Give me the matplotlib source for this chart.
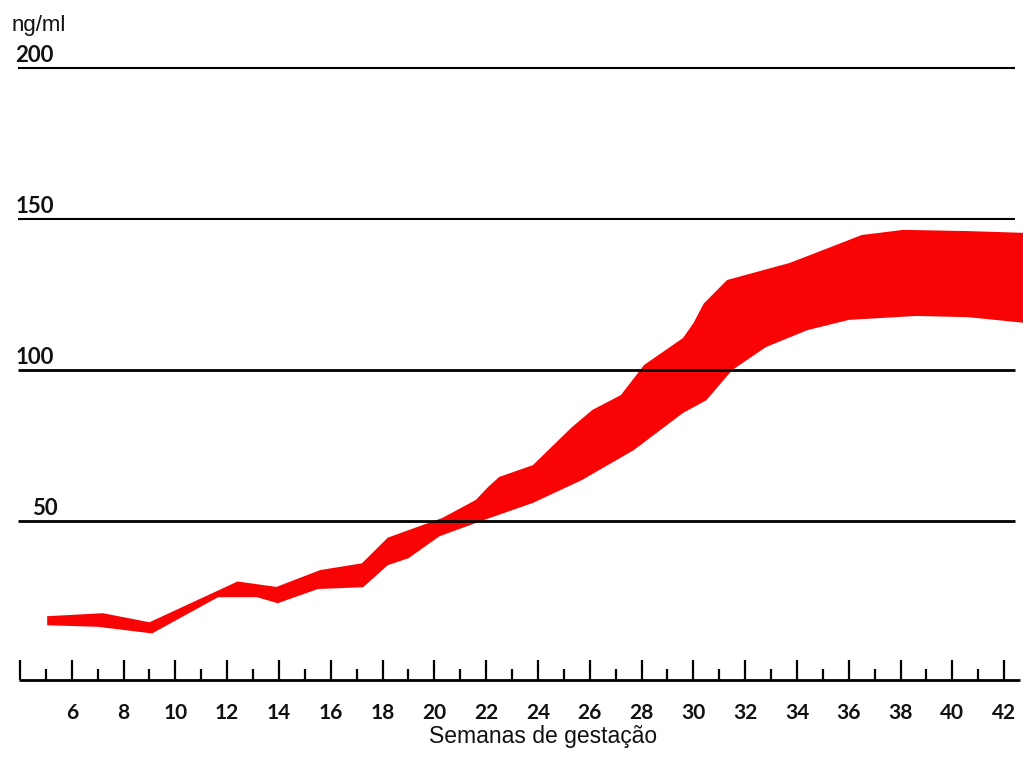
from __future__ import annotations

import matplotlib

matplotlib.use("Agg")
import matplotlib.pyplot as plt
import numpy as np


# band edges (week, ng/ml)
UPPER_WEEKS = [5.05, 7.2, 9.0, 12.4, 13.9, 15.6, 17.2, 18.2, 19.0, 20.3, 21.6, 22.1, 22.5, 23.8,
               25.3, 26.1, 27.2, 28.1, 29.6, 30.0, 30.4, 31.3, 32.45, 33.7, 35.0, 36.5, 38.1,
               40.6, 42.8]
UPPER_VALUES = [18.5, 19.5, 16.5, 30.0, 28.2, 33.8, 36.0, 44.5, 47.0, 51.0, 57.0, 61.5, 64.6, 68.5,
                81.0, 86.8, 91.7, 101.7, 110.6, 115.5, 122.0, 129.8, 132.5, 135.4, 139.7, 144.7, 146.4,
                146.0, 145.4]
LOWER_WEEKS = [5.05, 7.0, 9.1, 11.65, 13.15, 13.95, 15.5, 17.25, 18.2, 19.0, 20.2, 21.9,
               23.8, 25.7, 27.7, 29.6, 30.5, 31.5, 32.8, 34.4, 36.0, 38.6, 40.6, 42.8]
LOWER_VALUES = [15.5, 15.0, 12.8, 24.8, 24.8, 22.8, 27.5, 28.1, 35.4, 37.7, 45.0, 50.3,
                56.0, 63.6, 73.5, 85.8, 90.0, 100.0, 107.6, 113.2, 116.6, 117.9, 117.5, 115.6]

GRID_LEVELS = [50, 100, 150, 200]
GRID_LABELS = ["50", "100", "150", "200"]
TICK_LABEL_WEEKS = list(range(6, 43, 2))
MAJOR_TICK_WEEKS = list(range(4, 43, 2))
MINOR_TICK_WEEKS = list(range(5, 42, 2))

RED = "#f80404"


def main() -> None:
    fig = plt.figure(figsize=(10.23, 7.6), dpi=100)
    ax = fig.add_axes([0, 0, 1, 1])
    ax.set_xlim(3.228, 42.726)
    ax.set_ylim(-29.1, 222.5)
    ax.axis("off")

    # red band
    poly_x = np.concatenate([UPPER_WEEKS, LOWER_WEEKS[::-1]])
    poly_y = np.concatenate([UPPER_VALUES, LOWER_VALUES[::-1]])
    ax.fill(poly_x, poly_y, color=RED, lw=0, zorder=1)

    # horizontal reference lines + labels
    for level, lab in zip(GRID_LEVELS, GRID_LABELS):
        lw = 1.5 if level >= 150 else 2.0
        ax.hlines(level, 3.92, 42.42, color="black", lw=lw, zorder=2)
        x0 = 4.45 if len(lab) == 2 else 3.82
        ax.text(x0, level + 2.0, lab, family="Lato", fontweight="bold", fontsize=16,
                ha="left", va="baseline", color="#111111")
    ax.text(3.68, 212.3, "ng/ml", family="Liberation Sans", fontsize=16,
            ha="left", va="baseline", color="#111111")

    # bottom axis with ticks
    base = -2.6
    ax.hlines(base, 3.96, 42.6, color="black", lw=2.0, zorder=2)
    ax.vlines(MAJOR_TICK_WEEKS, base, base + 6.6, color="black", lw=1.6, zorder=2)
    ax.vlines(MINOR_TICK_WEEKS, base, base + 3.6, color="black", lw=1.6, zorder=2)
    for w in TICK_LABEL_WEEKS:
        ax.text(w, -13.6, str(w), family="Lato", fontweight="bold", fontsize=15,
                ha="center", va="center", color="#111111")
    ax.text(24.2, -23.5, "Semanas de gestação", family="Liberation Sans", fontsize=16.5,
            ha="center", va="baseline", color="#111111")

    fig.savefig("out.png", dpi=100, facecolor="white")
    plt.close(fig)


if __name__ == "__main__":
    main()
